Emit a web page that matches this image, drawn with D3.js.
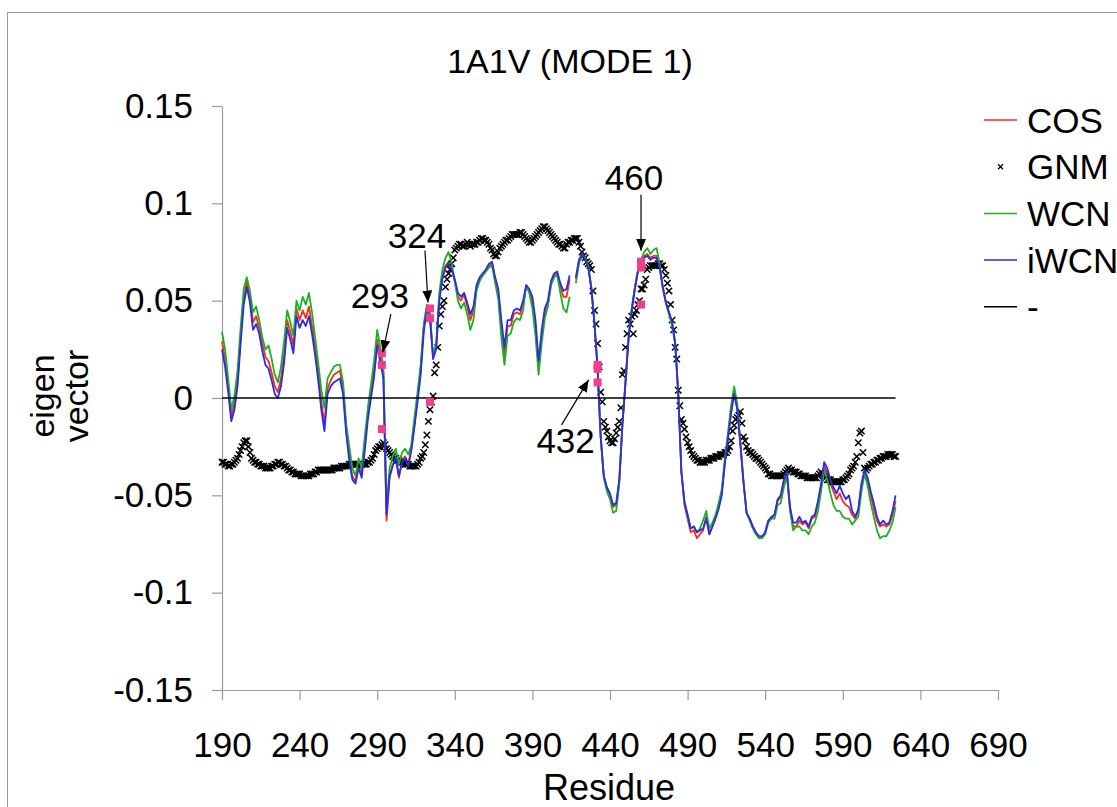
<!DOCTYPE html>
<html>
<head>
<meta charset="utf-8">
<script src="https://cdn.jsdelivr.net/npm/d3@7"></script>
<style>
  body { margin: 0; background: #fff; }
  svg { display: block; }
  text { font-family: "Liberation Sans", Arial, Helvetica, sans-serif; fill: #000; }
</style>
</head>
<body>
<svg id="chart" width="1117" height="807"></svg>
<script>
// ---------------- data ----------------
const chartTitle = "1A1V (MODE 1)";
const xTitle = "Residue";
const yTitleLines = ["eigen", "vector"];

const xTicks = [190, 240, 290, 340, 390, 440, 490, 540, 590, 640, 690];
const yTicks = [0.15, 0.1, 0.05, 0, -0.05, -0.1, -0.15];
const yTickLabels = ["0.15", "0.1", "0.05", "0", "-0.05", "-0.1", "-0.15"];

const seriesNames = ["COS", "GNM", "WCN", "iWCN", "-"];

// line series: residues 190, 192, ... 624
const residues = d3.range(190, 625, 2);

const cosValues = [
  0.029, 0.020, 0.006, -0.009, -0.003, 0.009, 0.031, 0.051, 0.060, 0.052,
  0.039, 0.042, 0.036, 0.028, 0.021, 0.019, 0.013, 0.006, 0.003, 0.010,
  0.022, 0.040, 0.034, 0.027, 0.046, 0.040, 0.045, 0.041, 0.047, 0.037,
  0.026, 0.013, -0.002, -0.013, 0.005, 0.009, 0.012, 0.013, 0.014, 0.005,
  -0.015, -0.030, -0.040, -0.043, -0.034, -0.039, -0.024, -0.008, 0.003, 0.014,
  0.030, 0.021, 0.013, -0.063, -0.041, -0.034, -0.032, -0.041, -0.032, -0.030,
  -0.034, -0.026, -0.013, 0.000, 0.014, 0.036, 0.047, 0.042, 0.021, 0.026,
  0.051, 0.062, 0.068, 0.070, 0.066, 0.060, 0.052, 0.050, 0.053, 0.047,
  0.040, 0.045, 0.057, 0.061, 0.063, 0.065, 0.068, 0.069, 0.061, 0.054,
  0.037, 0.022, 0.037, 0.037, 0.043, 0.044, 0.043, 0.048, 0.057, 0.055,
  0.050, 0.037, 0.016, 0.032, 0.044, 0.048, 0.059, 0.063, 0.064, 0.057,
  0.052, 0.052, 0.061, null, 0.061, 0.070, 0.073, 0.071, 0.067, 0.056,
  0.038, 0.015, -0.020, -0.040, -0.046, -0.050, -0.056, -0.055, -0.042, -0.014,
  0.008, 0.031, 0.045, 0.056, 0.065, 0.070, 0.073, 0.074, 0.072, 0.073,
  0.073, 0.067, 0.057, 0.049, 0.044, 0.039, 0.028, 0.002, -0.038, -0.055,
  -0.062, -0.069, -0.068, -0.072, -0.070, -0.068, -0.061, -0.070, -0.066, -0.061,
  -0.056, -0.049, -0.033, -0.020, -0.007, 0.003, -0.005, -0.023, -0.043, -0.059,
  -0.062, -0.066, -0.069, -0.072, -0.072, -0.069, -0.063, -0.062, -0.060, -0.053,
  -0.051, -0.043, -0.039, -0.057, -0.066, -0.066, -0.063, -0.065, -0.064, -0.067,
  -0.062, -0.061, -0.054, -0.045, -0.035, -0.038, -0.044, -0.048, -0.052, -0.049,
  -0.053, -0.055, -0.056, -0.060, -0.062, -0.058, -0.045, -0.038, -0.043, -0.050,
  -0.057, -0.063, -0.066, -0.065, -0.066, -0.065, -0.060, -0.053
];

const wcnValues = [
  0.034, 0.025, 0.010, -0.006, 0.001, 0.014, 0.036, 0.056, 0.062, 0.055,
  0.044, 0.047, 0.040, 0.031, 0.025, 0.027, 0.020, 0.012, 0.008, 0.016,
  0.029, 0.045, 0.039, 0.032, 0.050, 0.045, 0.052, 0.048, 0.054, 0.044,
  0.031, 0.018, 0.004, -0.005, 0.010, 0.013, 0.016, 0.017, 0.017, 0.008,
  -0.013, -0.025, -0.036, -0.040, -0.031, -0.036, -0.020, -0.005, 0.007, 0.019,
  0.035, 0.026, 0.016, -0.056, -0.036, -0.030, -0.026, -0.034, -0.028, -0.026,
  -0.029, -0.024, -0.010, 0.003, 0.017, 0.038, 0.048, 0.044, 0.022, 0.028,
  0.054, 0.066, 0.072, 0.075, 0.069, 0.060, 0.050, 0.046, 0.049, 0.043,
  0.035, 0.040, 0.055, 0.060, 0.063, 0.065, 0.067, 0.068, 0.059, 0.051,
  0.031, 0.017, 0.032, 0.033, 0.039, 0.041, 0.040, 0.045, 0.058, 0.054,
  0.046, 0.032, 0.012, 0.028, 0.041, 0.047, 0.058, 0.062, 0.063, 0.054,
  0.046, 0.044, 0.052, null, 0.059, 0.069, 0.074, 0.072, 0.068, 0.057,
  0.039, 0.015, -0.020, -0.041, -0.048, -0.052, -0.059, -0.058, -0.044, -0.013,
  0.009, 0.032, 0.046, 0.057, 0.066, 0.071, 0.075, 0.077, 0.074, 0.076,
  0.077, 0.069, 0.057, 0.049, 0.043, 0.037, 0.028, 0.002, -0.038, -0.053,
  -0.060, -0.067, -0.066, -0.069, -0.067, -0.063, -0.058, -0.067, -0.064, -0.060,
  -0.054, -0.047, -0.031, -0.018, -0.004, 0.006, -0.003, -0.023, -0.043, -0.059,
  -0.063, -0.067, -0.070, -0.072, -0.072, -0.070, -0.064, -0.062, -0.062, -0.055,
  -0.054, -0.046, -0.040, -0.058, -0.068, -0.066, -0.066, -0.068, -0.068, -0.070,
  -0.066, -0.064, -0.058, -0.048, -0.037, -0.042, -0.049, -0.055, -0.058, -0.058,
  -0.061, -0.062, -0.062, -0.065, -0.063, -0.061, -0.048, -0.039, -0.045, -0.054,
  -0.061, -0.068, -0.072, -0.071, -0.071, -0.068, -0.064, -0.056
];

const iwcnValues = [
  0.025, 0.016, 0.003, -0.012, -0.006, 0.006, 0.028, 0.048, 0.057, 0.049,
  0.035, 0.038, 0.033, 0.024, 0.017, 0.015, 0.009, 0.002, 0.000, 0.006,
  0.018, 0.036, 0.030, 0.023, 0.042, 0.036, 0.040, 0.037, 0.042, 0.033,
  0.022, 0.009, -0.006, -0.017, 0.002, 0.006, 0.008, 0.009, 0.010, 0.002,
  -0.018, -0.032, -0.042, -0.044, -0.036, -0.041, -0.027, -0.011, 0.000, 0.011,
  0.027, 0.018, 0.010, -0.060, -0.040, -0.035, -0.030, -0.040, -0.033, -0.031,
  -0.035, -0.027, -0.015, -0.002, 0.012, 0.034, 0.046, 0.041, 0.020, 0.025,
  0.050, 0.061, 0.067, 0.069, 0.066, 0.061, 0.054, 0.052, 0.054, 0.049,
  0.043, 0.047, 0.058, 0.062, 0.064, 0.066, 0.069, 0.070, 0.062, 0.056,
  0.040, 0.026, 0.040, 0.040, 0.045, 0.046, 0.045, 0.050, 0.058, 0.056,
  0.052, 0.040, 0.019, 0.035, 0.046, 0.050, 0.060, 0.064, 0.065, 0.059,
  0.055, 0.056, 0.063, null, 0.062, 0.071, 0.074, 0.071, 0.067, 0.056,
  0.038, 0.015, -0.020, -0.040, -0.046, -0.049, -0.055, -0.054, -0.042, -0.014,
  0.008, 0.031, 0.045, 0.056, 0.065, 0.070, 0.072, 0.073, 0.071, 0.072,
  0.072, 0.067, 0.057, 0.049, 0.044, 0.039, 0.028, 0.002, -0.038, -0.054,
  -0.060, -0.067, -0.066, -0.069, -0.068, -0.067, -0.062, -0.070, -0.066, -0.062,
  -0.057, -0.050, -0.034, -0.021, -0.008, 0.002, -0.006, -0.024, -0.043, -0.059,
  -0.062, -0.066, -0.069, -0.071, -0.071, -0.069, -0.063, -0.061, -0.060, -0.052,
  -0.050, -0.042, -0.038, -0.056, -0.064, -0.064, -0.061, -0.064, -0.063, -0.066,
  -0.061, -0.060, -0.053, -0.044, -0.033, -0.036, -0.042, -0.046, -0.049, -0.045,
  -0.049, -0.052, -0.050, -0.058, -0.061, -0.057, -0.044, -0.037, -0.041, -0.048,
  -0.054, -0.061, -0.065, -0.063, -0.065, -0.064, -0.058, -0.050
];

// GNM scatter: one value per residue, 190 ... 624
const gnmResidues = d3.range(190, 625);
const gnmValues = [
  -0.033, -0.033, -0.034, -0.034, -0.035, -0.035, -0.034, -0.034, -0.033, -0.032,
  -0.031, -0.029, -0.027, -0.025, -0.023, -0.022, -0.022, -0.025, -0.028, -0.031,
  -0.032, -0.033, -0.033, -0.034, -0.034, -0.035, -0.035, -0.035, -0.036, -0.036,
  -0.036, -0.036, -0.035, -0.035, -0.034, -0.034, -0.033, -0.033, -0.034, -0.034,
  -0.035, -0.035, -0.036, -0.037, -0.037, -0.038, -0.038, -0.039, -0.039, -0.039,
  -0.039, -0.040, -0.040, -0.040, -0.040, -0.040, -0.040, -0.039, -0.039, -0.039,
  -0.038, -0.038, -0.037, -0.037, -0.037, -0.037, -0.037, -0.037, -0.037, -0.037,
  -0.037, -0.037, -0.036, -0.036, -0.036, -0.036, -0.036, -0.035, -0.035, -0.035,
  -0.035, -0.035, -0.034, -0.034, -0.034, -0.034, -0.034, -0.034, -0.034, -0.034,
  -0.034, -0.034, -0.034, -0.034, -0.033, -0.033, -0.032, -0.031, -0.029, -0.027,
  -0.026, -0.025, -0.025, -0.024, -0.023, -0.024, -0.026, -0.027, -0.028, -0.029,
  -0.030, -0.031, -0.031, -0.032, -0.032, -0.033, -0.033, -0.033, -0.034, -0.034,
  -0.034, -0.035, -0.035, -0.035, -0.035, -0.035, -0.034, -0.033, -0.031, -0.030,
  -0.028, -0.024, -0.019, -0.012, -0.006, -0.002, 0.001, 0.013, 0.017, 0.026,
  0.037, 0.043, 0.047, 0.050, 0.057, 0.061, 0.064, 0.066, 0.069, 0.072,
  0.076, 0.077, 0.078, 0.079, 0.079, 0.078, 0.078, 0.079, 0.080, 0.079,
  0.078, 0.079, 0.079, 0.079, 0.080, 0.080, 0.081, 0.082, 0.082, 0.081,
  0.081, 0.080, 0.079, 0.077, 0.076, 0.074, 0.073, 0.073, 0.075, 0.077,
  0.078, 0.079, 0.080, 0.081, 0.081, 0.082, 0.083, 0.084, 0.084, 0.084,
  0.084, 0.084, 0.085, 0.085, 0.084, 0.083, 0.082, 0.081, 0.080, 0.080,
  0.081, 0.082, 0.083, 0.084, 0.085, 0.086, 0.087, 0.088, 0.088, 0.087,
  0.086, 0.085, 0.084, 0.083, 0.082, 0.081, 0.080, 0.079, 0.079, 0.078,
  0.077, 0.077, 0.079, 0.080, 0.080, 0.081, 0.081, 0.082, 0.082, 0.082,
  0.080, 0.078, 0.075, 0.073, 0.072, 0.070, 0.069, 0.068, 0.066, 0.055,
  0.045, 0.038, 0.028, 0.016, 0.003, -0.002, -0.012, -0.015, -0.017, -0.020,
  -0.022, -0.023, -0.023, -0.021, -0.018, -0.015, -0.012, -0.005, 0.012, 0.014,
  0.026, 0.033, 0.040, 0.038, 0.042, 0.033, 0.043, 0.045, 0.048, 0.050,
  0.056, 0.056, 0.058, 0.061, 0.066, 0.067, 0.068, 0.068, 0.068, 0.068,
  0.068, 0.069, 0.069, 0.068, 0.068, 0.066, 0.063, 0.059, 0.055, 0.048,
  0.040, 0.035, 0.026, 0.020, 0.004, -0.004, -0.011, -0.013, -0.016, -0.020,
  -0.023, -0.025, -0.027, -0.029, -0.030, -0.031, -0.032, -0.032, -0.033, -0.033,
  -0.033, -0.033, -0.032, -0.032, -0.032, -0.031, -0.031, -0.031, -0.030, -0.030,
  -0.030, -0.029, -0.029, -0.029, -0.028, -0.028, -0.027, -0.025, -0.022, -0.017,
  -0.014, -0.011, -0.010, -0.009, -0.007, -0.013, -0.020, -0.022, -0.025, -0.027,
  -0.028, -0.028, -0.029, -0.030, -0.031, -0.031, -0.032, -0.033, -0.034, -0.035,
  -0.036, -0.037, -0.039, -0.039, -0.040, -0.040, -0.040, -0.040, -0.040, -0.040,
  -0.040, -0.040, -0.039, -0.038, -0.037, -0.036, -0.037, -0.037, -0.038, -0.038,
  -0.038, -0.039, -0.039, -0.040, -0.040, -0.040, -0.040, -0.041, -0.041, -0.041,
  -0.041, -0.041, -0.041, -0.041, -0.040, -0.039, -0.038, -0.039, -0.040, -0.041,
  -0.042, -0.042, -0.042, -0.043, -0.043, -0.043, -0.043, -0.043, -0.043, -0.043,
  -0.042, -0.042, -0.041, -0.040, -0.039, -0.037, -0.036, -0.035, -0.033, -0.030,
  -0.023, -0.018, -0.017, -0.028, -0.036, -0.037, -0.036, -0.035, -0.034, -0.034,
  -0.033, -0.033, -0.032, -0.032, -0.031, -0.031, -0.030, -0.030, -0.030, -0.029,
  -0.029, -0.029, -0.029, -0.030, -0.030
];

// the "-" series: a flat line at zero across the residue range
const baseResidues = [190, 624];
const baseValues = [0, 0];

// highlighted residues (pink squares)
const markResidues = [293, 293, 293, 324, 324, 324, 432, 432, 432, 460, 460, 460];
const markValues = [0.023, 0.017, -0.016, 0.046, 0.041, -0.002, 0.017, 0.015, 0.008, 0.070, 0.067, 0.048];

// callouts: label, residue, value of the mark the arrow points at
const calloutLabels = ["293", "324", "432", "460"];
const calloutResidues = [293, 324, 432, 460];
const calloutValues = [0.023, 0.046, 0.017, 0.070];

// ---------------- layout & style ----------------
const colors = { COS: "#ff2a1a", WCN: "#1fb01f", iWCN: "#2b2bea", GNM: "#000", base: "#000", mark: "#f23d8c", axis: "#9a9a9a" };
// pixel offsets (tip, tail, text) from each callout's mark
const calloutLayout = [
  { tip: [1, -1],  tail: [9, -39],  text: [-2, -58] },
  { tip: [-2, -6], tail: [-5, -58], text: [-13, -73] },
  { tip: [-9, 15], tail: [-36, 60], text: [-32, 75] },
  { tip: [0, -11], tail: [0, -67],  text: [-7, -84] }
];

const svg = d3.select("#chart");

const x = d3.scaleLinear().domain([190, 690]).range([222, 998]);
const y = d3.scaleLinear().domain([-0.15, 0.15]).range([690, 106]);

// outer frame
svg.append("rect")
  .attr("x", 7.5).attr("y", 12.5).attr("width", 1300).attr("height", 1000)
  .attr("fill", "none").attr("stroke", colors.axis).attr("stroke-width", 1);

// title
svg.append("text")
  .attr("x", 570).attr("y", 73)
  .attr("text-anchor", "middle")
  .style("font-size", "34px")
  .text(chartTitle);

// y axis
const yAxisG = svg.append("g")
  .attr("transform", "translate(222,0)")
  .call(d3.axisLeft(y).tickValues(yTicks).tickSize(10).tickSizeOuter(0).tickPadding(19)
    .tickFormat((d, i) => yTickLabels[i]));

// x axis
const xAxisG = svg.append("g")
  .attr("transform", "translate(0,690)")
  .call(d3.axisBottom(x).tickValues(xTicks).tickSize(10).tickSizeOuter(0).tickPadding(32)
    .tickFormat(d3.format("d")));

[yAxisG, xAxisG].forEach(g => {
  g.select(".domain").attr("stroke", colors.axis).attr("stroke-width", 1.2);
  g.selectAll(".tick line").attr("stroke", colors.axis).attr("stroke-width", 1.2);
  g.selectAll(".tick text").attr("fill", "#000")
    .style("font-size", "35px")
    .style("font-family", "'Liberation Sans', Arial, sans-serif");
});

// axis titles
svg.append("text")
  .attr("x", 609).attr("y", 800)
  .attr("text-anchor", "middle")
  .style("font-size", "36px")
  .text(xTitle);

yTitleLines.forEach((t, i) => {
  svg.append("text")
    .attr("transform", `translate(${54 + i * 34},396) rotate(-90)`)
    .attr("text-anchor", "middle")
    .style("font-size", "34px")
    .text(t);
});

// series
const line = d3.line()
  .defined(d => d[1] !== null)
  .x(d => x(d[0]))
  .y(d => y(d[1]));

function drawLine(values, color, width) {
  svg.append("path")
    .datum(residues.map((r, i) => [r, values[i]]))
    .attr("fill", "none")
    .attr("stroke", color)
    .attr("stroke-width", width)
    .attr("stroke-linejoin", "round")
    .attr("d", line);
}

const crossPath = "M-3.2,-3.2L3.2,3.2M-3.2,3.2L3.2,-3.2";

// series order: COS, GNM, WCN, iWCN, "-"
drawLine(cosValues, colors.COS, 1.8);

svg.append("g").selectAll("path")
  .data(gnmResidues.map((r, i) => [r, gnmValues[i]]))
  .join("path")
  .attr("transform", d => `translate(${x(d[0])},${y(d[1])})`)
  .attr("d", crossPath)
  .attr("stroke", colors.GNM)
  .attr("stroke-width", 1.5)
  .attr("fill", "none");

drawLine(wcnValues, colors.WCN, 1.8);
drawLine(iwcnValues, colors.iWCN, 1.8);

svg.append("path")
  .datum(baseResidues.map((r, i) => [r, baseValues[i]]))
  .attr("fill", "none")
  .attr("stroke", colors.base)
  .attr("stroke-width", 1.5)
  .attr("d", line);

// highlighted residues
svg.append("g").selectAll("rect")
  .data(markResidues.map((r, i) => [r, markValues[i]]))
  .join("rect")
  .attr("x", d => x(d[0]) - 4)
  .attr("y", d => y(d[1]) - 4)
  .attr("width", 8).attr("height", 8)
  .attr("fill", colors.mark);

// callouts
const defs = svg.append("defs");
defs.append("marker")
  .attr("id", "arrowhead")
  .attr("viewBox", "0 0 12 10")
  .attr("refX", 12).attr("refY", 5)
  .attr("markerWidth", 12).attr("markerHeight", 10)
  .attr("markerUnits", "userSpaceOnUse")
  .attr("orient", "auto")
  .append("path")
  .attr("d", "M0,0L12,5L0,10Z")
  .attr("fill", "#000");

calloutLabels.forEach((label, i) => {
  const px = x(calloutResidues[i]);
  const py = y(calloutValues[i]);
  const L = calloutLayout[i];
  svg.append("line")
    .attr("x1", px + L.tail[0]).attr("y1", py + L.tail[1])
    .attr("x2", px + L.tip[0]).attr("y2", py + L.tip[1])
    .attr("stroke", "#000").attr("stroke-width", 1.2)
    .attr("marker-end", "url(#arrowhead)");
  svg.append("text")
    .attr("x", px + L.text[0]).attr("y", py + L.text[1])
    .attr("dy", "0.36em")
    .attr("text-anchor", "middle")
    .style("font-size", "35px")
    .text(label);
});

// legend
const legend = svg.append("g");
seriesNames.forEach((name, i) => {
  const ly = 120 + i * 46.7;
  const g = legend.append("g").attr("transform", `translate(0,${ly})`);
  if (name === "GNM") {
    g.append("path")
      .attr("transform", "translate(1000.5,0)")
      .attr("d", "M-2.5,-2.5L2.5,2.5M-2.5,2.5L2.5,-2.5")
      .attr("stroke", "#000").attr("stroke-width", 1.3);
  } else {
    const c = name === "COS" ? colors.COS : name === "WCN" ? colors.WCN : name === "iWCN" ? colors.iWCN : colors.base;
    g.append("line")
      .attr("x1", 984).attr("x2", 1017).attr("y1", 0).attr("y2", 0)
      .attr("stroke", c).attr("stroke-width", 1.5);
  }
  g.append("text")
    .attr("x", 1027).attr("y", 0)
    .attr("dy", "0.36em")
    .style("font-size", "35px")
    .text(name);
});
</script>
</body>
</html>
